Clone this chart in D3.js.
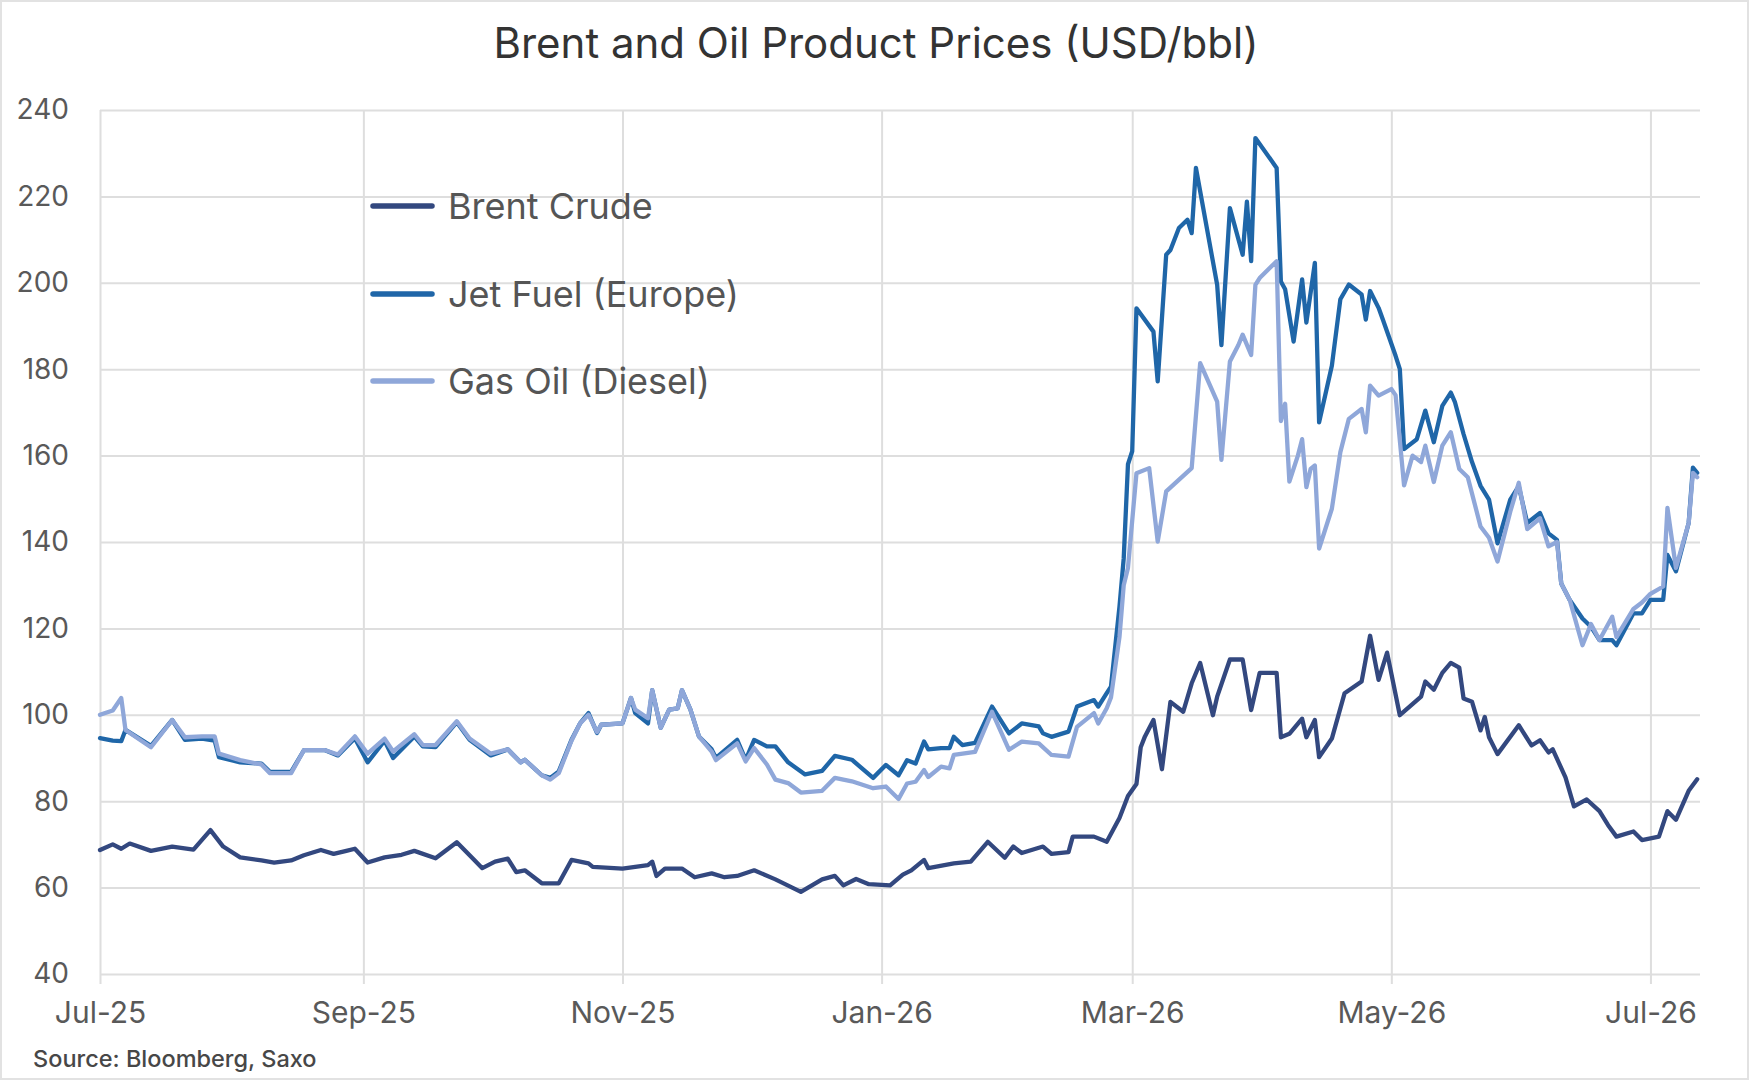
<!DOCTYPE html>
<html>
<head>
<meta charset="utf-8">
<script src="https://cdn.jsdelivr.net/npm/d3@7"></script>
<style>
  html, body { margin: 0; padding: 0; background: #fff; }
  svg { display: block; }
  text { font-family: Inter, "Noto Sans", sans-serif; }
</style>
</head>
<body>
<svg id="chart" width="1749" height="1080"></svg>
<script>
// ---------------- DATA ----------------
const title = "Brent and Oil Product Prices (USD/bbl)";
const source = "Source: Bloomberg, Saxo";
const seriesNames = ["Brent Crude", "Jet Fuel (Europe)", "Gas Oil (Diesel)"];
const yTicks = [40, 60, 80, 100, 120, 140, 160, 180, 200, 220, 240];
const xTickLabels = ["Jul-25", "Sep-25", "Nov-25", "Jan-26", "Mar-26", "May-26", "Jul-26"];

const brentDates = ["2025-07-01","2025-07-04","2025-07-06","2025-07-08","2025-07-13","2025-07-18","2025-07-23","2025-07-27","2025-07-30","2025-08-03","2025-08-08","2025-08-11","2025-08-15","2025-08-18","2025-08-22","2025-08-25","2025-08-28","2025-08-30","2025-09-02","2025-09-06","2025-09-10","2025-09-13","2025-09-18","2025-09-23","2025-09-27","2025-09-29","2025-10-02","2025-10-05","2025-10-07","2025-10-09","2025-10-13","2025-10-17","2025-10-20","2025-10-24","2025-10-25","2025-11-01","2025-11-07","2025-11-08","2025-11-09","2025-11-11","2025-11-15","2025-11-18","2025-11-22","2025-11-25","2025-11-28","2025-12-02","2025-12-07","2025-12-13","2025-12-18","2025-12-21","2025-12-23","2025-12-26","2025-12-29","2026-01-03","2026-01-06","2026-01-08","2026-01-11","2026-01-12","2026-01-18","2026-01-22","2026-01-26","2026-01-30","2026-02-01","2026-02-03","2026-02-08","2026-02-10","2026-02-14","2026-02-15","2026-02-20","2026-02-23","2026-02-26","2026-02-28","2026-03-02","2026-03-03","2026-03-04","2026-03-06","2026-03-08","2026-03-10","2026-03-13","2026-03-15","2026-03-17","2026-03-20","2026-03-21","2026-03-24","2026-03-27","2026-03-29","2026-03-31","2026-04-04","2026-04-05","2026-04-07","2026-04-10","2026-04-11","2026-04-13","2026-04-14","2026-04-17","2026-04-20","2026-04-24","2026-04-26","2026-04-28","2026-04-30","2026-05-03","2026-05-08","2026-05-09","2026-05-11","2026-05-13","2026-05-15","2026-05-17","2026-05-18","2026-05-20","2026-05-22","2026-05-23","2026-05-24","2026-05-26","2026-05-31","2026-06-03","2026-06-05","2026-06-07","2026-06-08","2026-06-11","2026-06-13","2026-06-16","2026-06-19","2026-06-21","2026-06-23","2026-06-27","2026-06-29","2026-07-03","2026-07-05","2026-07-07","2026-07-10","2026-07-12"];
const brentValues = [68.7,70.0,69.0,70.2,68.5,69.5,68.8,73.3,69.5,67.0,66.3,65.8,66.3,67.5,68.7,67.8,68.5,69.0,65.8,67.0,67.6,68.5,66.8,70.5,66.5,64.5,66.0,66.7,63.6,64.0,61.0,61.0,66.4,65.6,64.8,64.4,65.2,66.0,62.7,64.4,64.4,62.4,63.3,62.4,62.7,64.0,61.9,59.0,61.9,62.7,60.5,62.0,60.8,60.5,63.0,64.0,66.4,64.5,65.6,66.0,70.6,66.9,69.5,68.0,69.5,67.8,68.2,71.8,71.8,70.6,76.1,81.2,84.0,92.5,95.0,98.8,87.4,103.0,100.7,107.3,112.0,99.9,104.2,112.8,112.8,101.1,109.7,109.7,94.8,95.6,99.1,94.8,98.8,90.2,94.5,105.0,107.7,118.3,108.1,114.4,99.9,104.2,107.7,105.8,109.7,112.0,110.9,103.8,103.0,96.4,99.5,94.8,90.9,97.6,92.9,94.1,91.3,92.0,85.5,78.8,80.4,77.7,74.5,71.8,73.0,71.0,71.8,77.7,75.7,82.4,85.1];

const jetDates = ["2025-07-01","2025-07-04","2025-07-06","2025-07-07","2025-07-13","2025-07-18","2025-07-21","2025-07-25","2025-07-28","2025-07-29","2025-08-03","2025-08-08","2025-08-10","2025-08-15","2025-08-18","2025-08-23","2025-08-26","2025-08-30","2025-09-02","2025-09-06","2025-09-08","2025-09-13","2025-09-15","2025-09-18","2025-09-23","2025-09-26","2025-10-01","2025-10-05","2025-10-08","2025-10-09","2025-10-13","2025-10-15","2025-10-17","2025-10-20","2025-10-22","2025-10-24","2025-10-26","2025-10-27","2025-11-01","2025-11-03","2025-11-04","2025-11-07","2025-11-08","2025-11-10","2025-11-12","2025-11-14","2025-11-15","2025-11-17","2025-11-19","2025-11-22","2025-11-23","2025-11-28","2025-11-30","2025-12-02","2025-12-05","2025-12-07","2025-12-10","2025-12-14","2025-12-18","2025-12-21","2025-12-25","2025-12-30","2026-01-02","2026-01-05","2026-01-07","2026-01-09","2026-01-11","2026-01-12","2026-01-15","2026-01-17","2026-01-18","2026-01-20","2026-01-23","2026-01-27","2026-01-31","2026-02-03","2026-02-07","2026-02-08","2026-02-10","2026-02-14","2026-02-16","2026-02-20","2026-02-21","2026-02-23","2026-02-24","2026-02-26","2026-02-27","2026-02-28","2026-03-01","2026-03-02","2026-03-06","2026-03-07","2026-03-09","2026-03-10","2026-03-12","2026-03-14","2026-03-15","2026-03-16","2026-03-21","2026-03-22","2026-03-24","2026-03-27","2026-03-28","2026-03-29","2026-03-30","2026-04-04","2026-04-05","2026-04-06","2026-04-08","2026-04-10","2026-04-11","2026-04-13","2026-04-14","2026-04-17","2026-04-19","2026-04-21","2026-04-24","2026-04-25","2026-04-26","2026-04-28","2026-04-29","2026-05-02","2026-05-03","2026-05-04","2026-05-07","2026-05-09","2026-05-11","2026-05-13","2026-05-15","2026-05-16","2026-05-18","2026-05-20","2026-05-22","2026-05-24","2026-05-26","2026-05-29","2026-05-31","2026-06-02","2026-06-05","2026-06-07","2026-06-09","2026-06-10","2026-06-12","2026-06-15","2026-06-17","2026-06-19","2026-06-22","2026-06-23","2026-06-27","2026-06-29","2026-07-01","2026-07-04","2026-07-05","2026-07-07","2026-07-10","2026-07-11","2026-07-12"];
const jetValues = [94.6,94.0,93.9,96.5,92.8,98.8,94.2,94.5,94.0,90.2,89.0,88.7,86.8,86.8,91.8,91.8,90.6,94.6,89.0,94.0,90.0,95.0,92.7,92.5,98.3,94.2,90.6,92.0,89.0,89.6,86.0,85.4,86.9,94.2,98.0,100.4,95.8,97.7,98.0,103.9,100.4,98.0,105.7,97.0,101.2,101.5,105.7,101.2,95.0,92.0,90.0,94.2,89.6,94.2,92.7,92.7,89.0,86.2,87.0,90.5,89.6,85.4,88.4,86.0,89.5,88.7,93.8,92.0,92.3,92.3,94.9,93.0,93.5,101.9,95.7,98.0,97.3,95.7,94.9,96.1,101.9,103.4,101.9,105.0,106.5,125.0,136.2,158.0,161.0,194.1,188.7,177.2,206.5,207.6,212.7,214.6,211.5,226.6,199.5,185.6,217.3,206.5,218.8,205.0,233.5,226.6,200.3,198.5,186.4,200.8,190.8,204.6,167.7,180.8,196.2,199.6,197.3,191.5,198.1,194.2,191.5,183.1,180.0,161.5,163.8,170.4,163.1,171.5,174.6,172.3,165.0,158.5,153.0,149.8,139.7,149.8,152.9,144.4,146.7,142.0,140.5,130.4,126.6,122.3,120.4,117.3,117.3,116.1,123.5,123.5,126.6,126.6,137.0,133.2,144.4,157.2,156.0];

const gasDates = ["2025-07-01","2025-07-04","2025-07-06","2025-07-07","2025-07-13","2025-07-18","2025-07-21","2025-07-25","2025-07-28","2025-07-29","2025-08-03","2025-08-08","2025-08-10","2025-08-15","2025-08-18","2025-08-23","2025-08-26","2025-08-30","2025-09-02","2025-09-06","2025-09-08","2025-09-13","2025-09-15","2025-09-18","2025-09-23","2025-09-26","2025-10-01","2025-10-05","2025-10-08","2025-10-09","2025-10-13","2025-10-15","2025-10-17","2025-10-20","2025-10-22","2025-10-24","2025-10-26","2025-10-27","2025-11-01","2025-11-03","2025-11-04","2025-11-07","2025-11-08","2025-11-10","2025-11-12","2025-11-14","2025-11-15","2025-11-17","2025-11-19","2025-11-22","2025-11-23","2025-11-28","2025-11-30","2025-12-02","2025-12-05","2025-12-07","2025-12-10","2025-12-13","2025-12-18","2025-12-21","2025-12-25","2025-12-30","2026-01-02","2026-01-05","2026-01-07","2026-01-09","2026-01-11","2026-01-12","2026-01-15","2026-01-17","2026-01-18","2026-01-23","2026-01-27","2026-01-31","2026-02-03","2026-02-07","2026-02-10","2026-02-14","2026-02-16","2026-02-20","2026-02-21","2026-02-23","2026-02-24","2026-02-26","2026-02-27","2026-02-28","2026-03-02","2026-03-05","2026-03-07","2026-03-09","2026-03-11","2026-03-15","2026-03-17","2026-03-21","2026-03-22","2026-03-24","2026-03-26","2026-03-27","2026-03-29","2026-03-30","2026-03-31","2026-04-04","2026-04-05","2026-04-06","2026-04-07","2026-04-09","2026-04-10","2026-04-11","2026-04-12","2026-04-13","2026-04-14","2026-04-17","2026-04-19","2026-04-21","2026-04-24","2026-04-25","2026-04-26","2026-04-28","2026-05-01","2026-05-02","2026-05-04","2026-05-06","2026-05-08","2026-05-09","2026-05-11","2026-05-13","2026-05-15","2026-05-17","2026-05-19","2026-05-22","2026-05-24","2026-05-26","2026-05-29","2026-05-31","2026-06-02","2026-06-05","2026-06-07","2026-06-09","2026-06-10","2026-06-12","2026-06-15","2026-06-17","2026-06-19","2026-06-22","2026-06-23","2026-06-27","2026-06-29","2026-07-01","2026-07-04","2026-07-05","2026-07-07","2026-07-10","2026-07-11","2026-07-12"];
const gasValues = [100.0,101.0,103.9,96.5,92.5,98.8,94.8,95.0,95.0,91.0,89.5,88.5,86.5,86.5,91.8,91.8,90.8,95.0,91.0,94.5,91.5,95.5,93.0,93.0,98.5,94.5,91.0,92.0,89.0,89.6,86.0,85.0,86.5,94.0,98.0,100.0,96.0,97.7,98.0,103.9,101.2,99.2,105.7,97.0,101.2,101.5,105.7,101.2,95.0,91.5,89.5,93.4,89.2,92.3,88.5,85.0,84.2,82.0,82.4,85.4,84.6,83.0,83.4,80.5,84.1,84.5,87.2,85.6,88.0,87.6,90.7,91.4,100.7,91.9,93.8,93.4,90.7,90.3,97.2,100.4,98.0,101.5,104.0,118.0,130.0,134.0,155.9,157.1,140.1,151.7,153.5,157.1,181.4,172.5,159.0,181.8,185.6,188.0,183.3,199.5,201.1,205.0,168.0,172.0,154.0,160.0,163.8,152.7,156.9,157.7,138.5,147.7,160.8,168.5,170.8,165.4,176.2,173.9,175.4,174.0,153.1,160.0,158.5,162.3,153.9,162.3,165.4,156.9,155.0,143.6,141.0,135.5,147.0,153.7,143.0,145.5,139.0,140.0,130.4,126.6,116.1,121.0,117.3,122.7,118.0,124.5,126.0,128.0,129.7,147.9,134.0,144.4,156.0,155.0];

// ---------------- CHART ----------------
const colors = ["#33487f", "#1f66a8", "#8fa7d9"];
const parse = d3.utcParse("%Y-%m-%d");
const svg = d3.select("#chart");

const pL = 100, pR = 1700, pT = 110, pB = 974;
const x = d3.scaleUtc()
  .domain([Date.UTC(2025, 6, 1), Date.UTC(2026, 6, 12, 16)])
  .range([pL, pR]);
const y = d3.scaleLinear().domain([40, 240]).range([pB, pT]);

// outer border
svg.append("rect").attr("x", 1).attr("y", 1).attr("width", 1747).attr("height", 1078)
  .attr("fill", "#fff").attr("stroke", "#e2e2e2").attr("stroke-width", 2);

// title
svg.append("text").attr("x", 876).attr("y", 42).attr("text-anchor", "middle")
  .attr("dominant-baseline", "central").attr("font-size", 42).attr("fill", "#333")
  .text(title);

// horizontal grid + y labels
const yAxis = d3.axisLeft(y).tickValues(yTicks).tickSize(-(pR - pL)).tickPadding(31);
const gy = svg.append("g").attr("transform", `translate(${pL},0)`).call(yAxis);
gy.select(".domain").remove();
gy.selectAll(".tick line").attr("stroke", "#dedede").attr("stroke-width", 2);
gy.selectAll(".tick text").attr("font-size", 28).attr("fill", "#595959")
  .attr("font-family", "Inter, 'Noto Sans', sans-serif");

// vertical grid + x labels
const xTickDates = xTickLabels.map(s => d3.utcParse("%b-%y")(s));
const xAxis = d3.axisBottom(x).tickValues(xTickDates).tickFormat((d, i) => xTickLabels[i])
  .tickSizeInner(10).tickSizeOuter(0).tickPadding(18);
const gx = svg.append("g").attr("transform", `translate(0,${pB})`).call(xAxis);
gx.select(".domain").remove();
gx.selectAll(".tick line").attr("stroke", "#dedede").attr("stroke-width", 2)
  .attr("y1", 10).attr("y2", -(pB - pT));
gx.selectAll(".tick text").attr("font-size", 30).attr("fill", "#595959")
  .attr("font-family", "Inter, 'Noto Sans', sans-serif");

// lines
const series = [
  {dates: brentDates, values: brentValues},
  {dates: jetDates, values: jetValues},
  {dates: gasDates, values: gasValues}
];
const line = d3.line().x(d => x(d[0])).y(d => y(d[1])).curve(d3.curveLinear);
series.forEach((s, i) => {
  const pts = s.dates.map((d, j) => [parse(d), s.values[j]]);
  svg.append("path").datum(pts).attr("d", line)
    .attr("fill", "none").attr("stroke", colors[i]).attr("stroke-width", 4.3)
    .attr("stroke-linejoin", "round").attr("stroke-linecap", "round");
});

// legend
const legY = [206, 294, 381];
seriesNames.forEach((n, i) => {
  svg.append("line").attr("x1", 373).attr("x2", 432).attr("y1", legY[i]).attr("y2", legY[i])
    .attr("stroke", colors[i]).attr("stroke-width", 5.5).attr("stroke-linecap", "round");
  svg.append("text").attr("x", 448).attr("y", legY[i]).attr("dominant-baseline", "central")
    .attr("font-size", 36).attr("fill", "#555").text(n);
});

// source
svg.append("text").attr("x", 33).attr("y", 1058).attr("dominant-baseline", "central")
  .attr("font-size", 23.5).attr("font-weight", 500).attr("fill", "#474747").text(source);
</script>
</body>
</html>
